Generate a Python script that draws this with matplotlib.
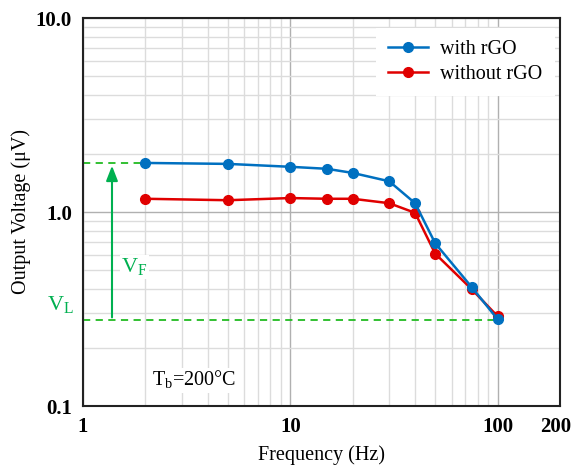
import numpy as np
import matplotlib.pyplot as plt
import matplotlib.transforms as mtransforms
from matplotlib.ticker import FixedLocator, NullFormatter

plt.rcParams['font.family'] = ['Liberation Serif', 'DejaVu Serif']

freq = [2, 5, 10, 15, 20, 30, 40, 50, 75, 100]
with_rgo = [1.79, 1.77, 1.71, 1.67, 1.59, 1.44, 1.11, 0.69, 0.41, 0.28]
without_rgo = [1.17, 1.15, 1.18, 1.17, 1.17, 1.11, 0.99, 0.61, 0.40, 0.29]

v_high = 1.79
v_low = 0.277
arrow_x = 1.38

xticks = [1, 10, 100, 200]
yticks = [0.1, 1.0, 10.0]

fig = plt.figure(figsize=(5.74, 4.69), dpi=100)
ax = fig.add_axes([83 / 574, 1 - 406 / 469, (560 - 83) / 574, (406 - 18) / 469])

ax.set_xscale('log')
ax.set_yscale('log')
ax.set_xlim(1, 200)
ax.set_ylim(0.1, 10)

# grid
ax.grid(which='major', color='#b0b0b0', linewidth=1.0)
ax.grid(which='minor', color='#dcdcdc', linewidth=1.0)
ax.set_axisbelow(True)

ax.xaxis.set_major_locator(FixedLocator(xticks))
ax.set_xticklabels([str(t) for t in xticks])
ax.yaxis.set_major_locator(FixedLocator(yticks))
ax.set_yticklabels(['%.1f' % t for t in yticks])
ax.xaxis.set_minor_formatter(NullFormatter())
ax.yaxis.set_minor_formatter(NullFormatter())
ax.tick_params(which='both', length=0, labelsize=15, pad=8)
for lab in ax.get_xticklabels() + ax.get_yticklabels():
    lab.set_fontweight('bold')
# keep the last label ("200") inside the figure
last = ax.get_xticklabels()[-1]
last.set_transform(last.get_transform() + mtransforms.ScaledTranslation(-4 / 100, 0, fig.dpi_scale_trans))

for s in ax.spines.values():
    s.set_linewidth(1.5)
    s.set_color('#222222')

# green guide lines
green = '#00b050'
ax.plot([1, freq[0]], [v_high, v_high], color='#22bb22', linestyle='--', linewidth=1.3, dashes=(4, 3))
ax.plot([1, 100], [v_low, v_low], color='#22bb22', linestyle='--', linewidth=1.3, dashes=(4, 3))
ax.annotate('', xy=(arrow_x, v_high), xytext=(arrow_x, v_low),
            arrowprops=dict(arrowstyle='-|>,head_width=0.35,head_length=0.9', color=green, lw=1.5))
ax.text(1.53, 0.52, r'V$_{\mathregular{F}}$', color=green, fontsize=16, va='center', ha='left',
        bbox=dict(facecolor='white', edgecolor='none', pad=1))
ax.text(0.67, 0.33, r'V$_{\mathregular{L}}$', color=green, fontsize=16, va='center', ha='left',
        transform=ax.transData, clip_on=False)

ax.plot(freq, without_rgo, color='#e00000', marker='o', markersize=7, linewidth=1.8, label='without rGO')
ax.plot(freq, with_rgo, color='#0070c0', marker='o', markersize=7, linewidth=1.8, label='with rGO')

handles, labels = ax.get_legend_handles_labels()
leg = ax.legend(handles[::-1], labels[::-1], loc='upper right', bbox_to_anchor=(1.01, 1.0),
                fontsize=14.5, frameon=True, facecolor='white', edgecolor='none', framealpha=1,
                fancybox=False, handlelength=2.0, handletextpad=0.6, labelspacing=0.3, borderpad=0.6)

ax.text(2.15, 0.136, r'T$_{\mathregular{b}}$=200°C', fontsize=14.5, ha='left', va='center',
        bbox=dict(facecolor='white', edgecolor='none', pad=1))

ax.set_xlabel('Frequency (Hz)', fontsize=14.5, labelpad=6)
ax.set_ylabel('Output Voltage (μV)', fontsize=14.5, labelpad=3)

fig.savefig('out.png', dpi=100)
